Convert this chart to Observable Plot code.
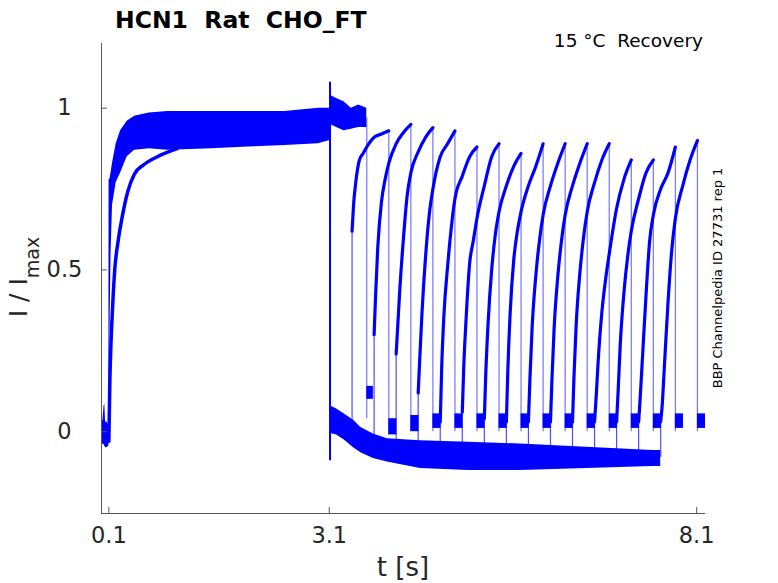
<!DOCTYPE html>
<html><head><meta charset="utf-8">
<script src="https://cdn.jsdelivr.net/npm/d3@7"></script>
<script src="https://cdn.jsdelivr.net/npm/@observablehq/plot@0.6"></script>
<style>body{margin:0;background:#fff}</style>
</head><body><div id="chart"></div>
<script>
// ---- axis ticks ----
const xTicks = [0.1, 3.1, 8.1];
const yTicks = [0, 0.5, 1];

// ---- holding baseline before P1 (noise envelope) ----
const baseT  = [0, 0.02, 0.035, 0.045, 0.055, 0.07, 0.1];
const baseHi = [0.03, 0.035, 0.08, 0.085, 0.03, 0.03, 0.02];
const baseLo = [-0.03, -0.04, -0.04, -0.045, -0.05, -0.05, -0.045];

// ---- P1 activation, fast sweeps (noise envelope) ----
const p1T  = [0.1, 0.103, 0.115, 0.13, 0.15, 0.2, 0.26, 0.35, 0.45, 0.65, 0.9, 1.5, 2.0, 2.5, 2.95, 3.11];
const p1Hi = [0.02, 0.78, 0.78, 0.8, 0.83, 0.89, 0.93, 0.96, 0.975, 0.985, 0.99, 0.99, 0.99, 0.99, 1.0, 1.0];
const p1Lo = [-0.045, -0.03, 0.3, 0.55, 0.7, 0.77, 0.8, 0.85, 0.87, 0.875, 0.87, 0.875, 0.88, 0.885, 0.89, 0.9];

// ---- P1 activation, slow sweep ----
const slowT = [0.1, 0.114, 0.127, 0.15, 0.18, 0.227, 0.287, 0.355, 0.445, 0.58, 0.76, 1.03];
const slowY = [-0.03, 0.16, 0.26, 0.38, 0.5, 0.59, 0.67, 0.74, 0.795, 0.826, 0.85, 0.875];

// ---- capacitive spike at end of P1 ----
const spikeT = 3.11;
const spikeLo = -0.09;
const spikeHi = 1.08;

// ---- sweep 0: P2 directly after P1 (noise envelope) ----
const s0T  = [3.11, 3.2, 3.3, 3.4, 3.5, 3.61];
const s0Hi = [1.04, 1.03, 1.02, 1.0, 1.01, 1.0];
const s0Lo = [0.95, 0.94, 0.93, 0.935, 0.94, 0.94];

// ---- deactivation tail during the recovery interval (noise envelope) ----
const tailT  = [3.11, 3.2, 3.3, 3.43, 3.53, 3.7, 3.89, 4.34, 5.0, 5.7, 6.6, 7.5, 7.61];
const tailHi = [0.08, 0.07, 0.055, 0.035, 0.013, -0.007, -0.022, -0.028, -0.033, -0.038, -0.048, -0.058, -0.058];
const tailLo = [-0.005, -0.01, -0.025, -0.05, -0.065, -0.083, -0.094, -0.114, -0.12, -0.12, -0.114, -0.108, -0.108];

// ---- P2 test pulses ----
const p2Start  = [3.11, 3.41, 3.71, 4.01, 4.31, 4.61, 4.91, 5.21, 5.51, 5.81, 6.11, 6.41, 6.71, 7.01, 7.31, 7.61];
const p2End    = [3.61, 3.91, 4.21, 4.51, 4.81, 5.11, 5.41, 5.71, 6.01, 6.31, 6.61, 6.91, 7.21, 7.51, 7.81, 8.11];
const postEnd  = [3.70, 4.02, 4.32, 4.62, 4.92, 5.22, 5.52, 5.82, 6.12, 6.42, 6.72, 7.02, 7.32, 7.62, 7.92, 8.22];
const p2Offset = [0, 0.02, 0.05, 0.1, 0.15, 0.2, 0.3, 0.4, 0.5];
const p2Sweep1  = [0.62, 0.70, 0.77, 0.84, 0.86, 0.88, 0.91, 0.92, 0.93];
const p2Sweep2  = [0.30, 0.42, 0.57, 0.71, 0.78, 0.83, 0.89, 0.925, 0.95];
const p2Sweep3  = [0.24, 0.32, 0.44, 0.60, 0.73, 0.80, 0.865, 0.91, 0.94];
const p2Sweep4  = [0.12, 0.22, 0.36, 0.54, 0.67, 0.75, 0.85, 0.89, 0.93];
const p2Sweep5  = [0.03, 0.20, 0.36, 0.51, 0.63, 0.72, 0.79, 0.85, 0.88];
const p2Sweep6  = [0.06, 0.20, 0.34, 0.52, 0.59, 0.66, 0.76, 0.85, 0.89];
const p2Sweep7  = [0.04, 0.18, 0.33, 0.50, 0.61, 0.68, 0.76, 0.82, 0.86];
const p2Sweep8  = [0.03, 0.19, 0.36, 0.53, 0.62, 0.68, 0.76, 0.82, 0.89];
const p2Sweep9  = [0.03, 0.16, 0.32, 0.48, 0.59, 0.67, 0.76, 0.83, 0.89];
const p2Sweep10 = [0.03, 0.16, 0.32, 0.48, 0.59, 0.67, 0.76, 0.83, 0.89];
const p2Sweep11 = [0.03, 0.17, 0.33, 0.49, 0.60, 0.68, 0.77, 0.84, 0.89];
const p2Sweep12 = [0.03, 0.10, 0.22, 0.37, 0.47, 0.55, 0.69, 0.78, 0.84];
const p2Sweep13 = [0.03, 0.12, 0.27, 0.43, 0.54, 0.62, 0.72, 0.80, 0.84];
const p2Sweep14 = [0.03, 0.10, 0.22, 0.42, 0.59, 0.67, 0.75, 0.80, 0.88];
const p2Sweep15 = [0.03, 0.08, 0.20, 0.40, 0.56, 0.66, 0.76, 0.84, 0.90];
const p2Sweeps = [null, p2Sweep1, p2Sweep2, p2Sweep3, p2Sweep4, p2Sweep5, p2Sweep6, p2Sweep7,
  p2Sweep8, p2Sweep9, p2Sweep10, p2Sweep11, p2Sweep12, p2Sweep13, p2Sweep14, p2Sweep15];
const preLevel = [null, -0.01, -0.045, -0.06, -0.07, -0.075, -0.075, -0.08, -0.08, -0.08, -0.08, -0.08, -0.08, -0.08, -0.08, -0.08];
const endLevel = [0.97, 0.93, 0.95, 0.94, 0.93, 0.88, 0.89, 0.86, 0.89, 0.89, 0.89, 0.89, 0.84, 0.84, 0.88, 0.90];
const dropLow  = [0.04, -0.01, 0.0, 0.0, 0.0, 0.0, 0.0, 0.0, 0.0, 0.0, 0.0, 0.0, 0.0, 0.0, 0.0, 0.0];
const postLo   = [0.10, -0.01, 0.0, 0.01, 0.01, 0.01, 0.01, 0.01, 0.01, 0.01, 0.01, 0.01, 0.01, 0.01, 0.01, 0.01];
const postHi   = [0.14, 0.04, 0.05, 0.055, 0.055, 0.055, 0.055, 0.055, 0.055, 0.055, 0.055, 0.055, 0.055, 0.055, 0.055, 0.055];

// ---- build tables ----
const band = (T, Lo, Hi) => T.map((t, i) => ({t, lo: Lo[i], hi: Hi[i]}));
const baseBand = band(baseT, baseLo, baseHi);
const p1Band = band(p1T, p1Lo, p1Hi);
const s0Band = band(s0T, s0Lo, s0Hi);
const tailBand = band(tailT, tailLo, tailHi);
const slowLine = slowT.map((t, i) => ({t, y: slowY[i]}));

const p2Lines = [];
const riseRules = [];
p2Sweeps.forEach((vals, k) => {
  if (!vals) return;
  vals.forEach((v, j) => p2Lines.push({k, t: p2Start[k] + p2Offset[j], y: v}));
  riseRules.push({t: p2Start[k], y1: preLevel[k], y2: vals[0]});
});
const dropRules = p2End.map((t, k) => ({t, y1: endLevel[k], y2: dropLow[k]}));
const posts = p2End.map((t, k) => ({x1: t, x2: postEnd[k], y1: postLo[k], y2: postHi[k]}));

const blue = "#0000ff";
const axisColor = "#555";
const txt = "#262626";
const font = "DejaVu Sans";

const plot = Plot.plot({
  width: 778, height: 583,
  marginLeft: 101, marginRight: 73, marginTop: 43, marginBottom: 70,
  x: {domain: [0, 8.22]},
  y: {domain: [-0.253, 1.2]},
  style: {fontFamily: font, background: "#fff", color: txt},
  marks: [
    Plot.areaY(baseBand, {x: "t", y1: "lo", y2: "hi", fill: blue}),
    Plot.areaY(p1Band, {x: "t", y1: "lo", y2: "hi", fill: blue}),
    Plot.line(slowLine, {x: "t", y: "y", stroke: blue, strokeWidth: 3.5, curve: "monotone-x"}),
    Plot.areaY(s0Band, {x: "t", y1: "lo", y2: "hi", fill: blue}),
    Plot.areaY(tailBand, {x: "t", y1: "lo", y2: "hi", fill: blue}),
    Plot.ruleX([{t: spikeT, y1: spikeLo, y2: spikeHi}], {x: "t", y1: "y1", y2: "y2", stroke: blue, strokeWidth: 2}),
    Plot.ruleX(riseRules, {x: "t", y1: "y1", y2: "y2", stroke: blue, strokeWidth: 1.2, strokeOpacity: 0.7}),
    Plot.line(p2Lines, {x: "t", y: "y", z: "k", stroke: blue, strokeWidth: 3.2, curve: "monotone-x"}),
    Plot.ruleX(dropRules, {x: "t", y1: "y1", y2: "y2", stroke: blue, strokeWidth: 1.2, strokeOpacity: 0.55}),
    Plot.rect(posts, {x1: "x1", x2: "x2", y1: "y1", y2: "y2", fill: blue}),
    // axis lines
    Plot.ruleX([0], {stroke: axisColor}),
    Plot.ruleY([-0.253], {stroke: axisColor}),
    // inward tick marks
    Plot.axisX({ticks: xTicks, tickSize: -6, tickFormat: () => "", label: null, stroke: axisColor}),
    Plot.axisY({ticks: yTicks, tickSize: -6, tickFormat: () => "", label: null, stroke: axisColor}),
    // tick labels
    Plot.axisX({ticks: xTicks, tickSize: 0, tickPadding: 14, tickFormat: d => String(d), label: null, fontSize: 22.5, fill: txt}),
    Plot.axisY({ticks: yTicks, tickSize: 0, tickPadding: 37, textAnchor: "middle", tickFormat: d => String(d), label: null, fontSize: 22.5, fill: txt})
  ]
});

document.getElementById("chart").appendChild(plot);
const svg = d3.select(plot);

svg.append("text").attr("x", 115).attr("y", 28).attr("text-anchor", "start")
  .attr("font-family", font).attr("font-weight", "bold").attr("font-size", 23.5)
  .attr("fill", "#000").style("white-space", "pre").text("HCN1  Rat  CHO_FT");

svg.append("text").attr("x", 703).attr("y", 47).attr("text-anchor", "end")
  .attr("font-family", font).attr("font-size", 18.5).attr("fill", "#000")
  .style("white-space", "pre").text("15 °C  Recovery");

svg.append("text").attr("x", 403).attr("y", 576).attr("text-anchor", "middle")
  .attr("font-family", font).attr("font-size", 26).attr("fill", txt).text("t [s]");

const yl = svg.append("text").attr("transform", "translate(27,277) rotate(-90)")
  .attr("text-anchor", "middle").attr("font-family", font).attr("fill", txt)
  .style("white-space", "pre");
yl.append("tspan").attr("font-size", 25).text("I / I");
yl.append("tspan").attr("font-size", 19).attr("dy", 12).text("max");

svg.append("text").attr("transform", "translate(722,278) rotate(-90)")
  .attr("text-anchor", "middle").attr("font-family", font).attr("font-size", 13)
  .attr("fill", "#000").text("BBP Channelpedia ID 27731 rep 1");
</script>
</body></html>
